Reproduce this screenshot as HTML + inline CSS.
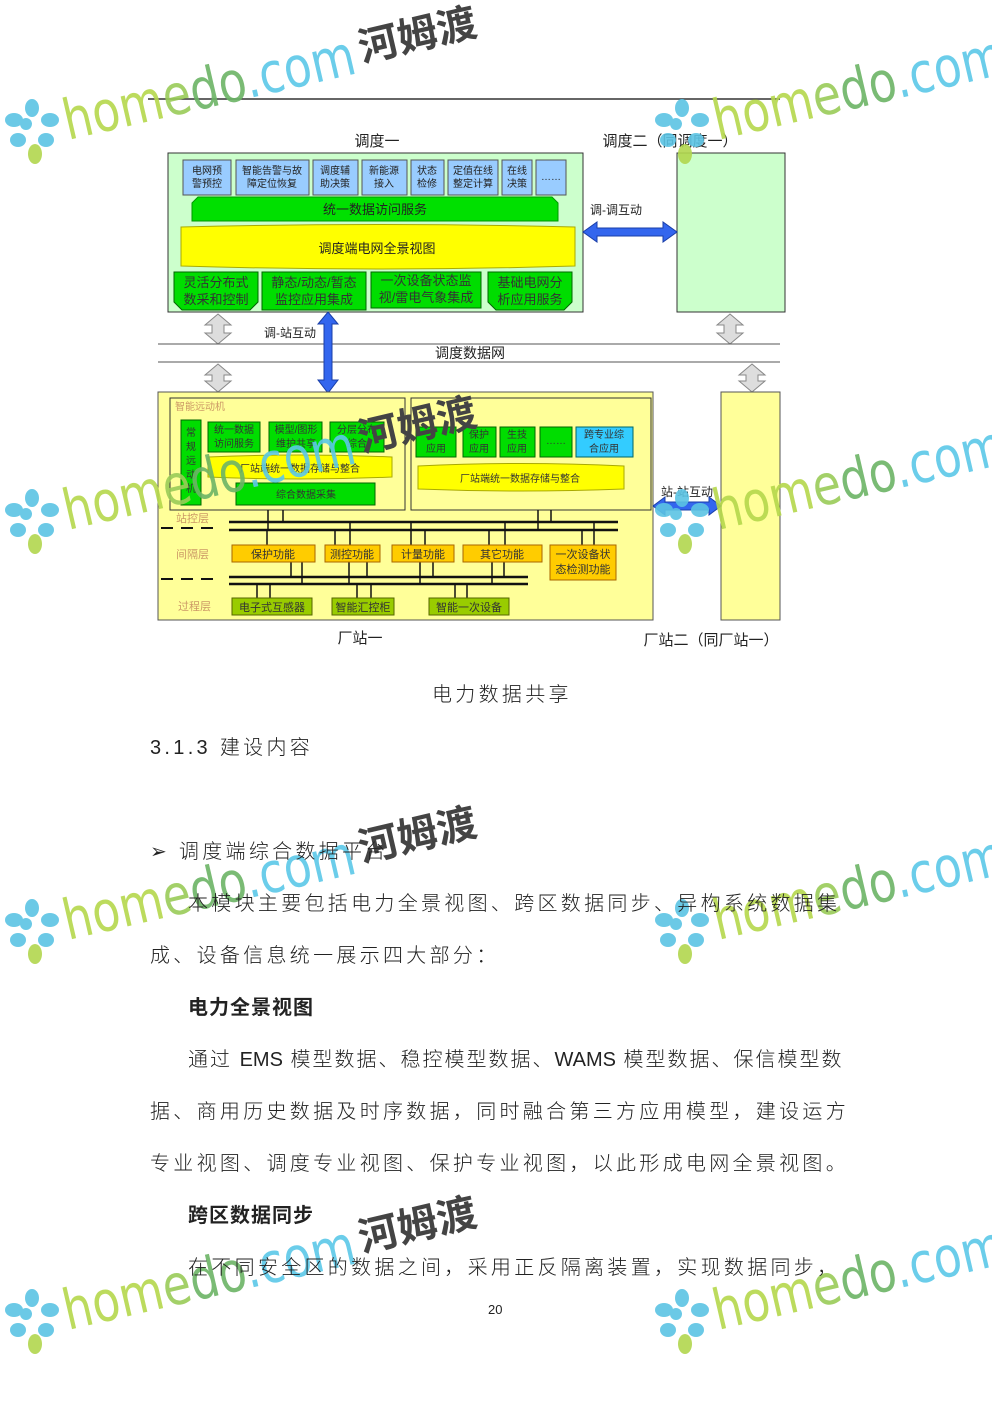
<!DOCTYPE html>
<html><head><meta charset="utf-8"><style>
html,body{margin:0;padding:0;background:#fff}
body{width:992px;height:1403px;position:relative;overflow:hidden;font-family:"Liberation Sans","Noto Sans CJK SC",sans-serif}
.t{position:absolute;font-family:"Liberation Sans","Noto Sans CJK SC",sans-serif;font-size:20px;color:#222;letter-spacing:3.3px;white-space:nowrap;font-weight:300}
.b{font-weight:700;letter-spacing:1px}
.l{letter-spacing:0}
svg text{font-family:"Liberation Sans","Noto Sans CJK SC",sans-serif}
</style></head><body>
<svg width="992" height="1403" style="position:absolute;left:0;top:0" xmlns="http://www.w3.org/2000/svg">
<line x1="148" y1="99" x2="780" y2="99" stroke="#333" stroke-width="1.5"/>
<text x="377" y="146" font-size="15" text-anchor="middle" fill="#222">调度一</text>
<text x="670" y="146" font-size="15" text-anchor="middle" fill="#222">调度二（同调度一）</text>
<rect x="168" y="153" width="415" height="159" fill="#ccffcc" stroke="#333"/>
<g font-size="10" fill="#222" text-anchor="middle">
<rect x="183" y="160" width="48" height="35" fill="#99ccff" stroke="#555"/><text x="207" y="174">电网预</text><text x="207" y="187">警预控</text>
<rect x="236" y="160" width="73" height="35" fill="#99ccff" stroke="#555"/><text x="272" y="174">智能告警与故</text><text x="272" y="187">障定位恢复</text>
<rect x="313" y="160" width="45" height="35" fill="#99ccff" stroke="#555"/><text x="335" y="174">调度辅</text><text x="335" y="187">助决策</text>
<rect x="362" y="160" width="45" height="35" fill="#99ccff" stroke="#555"/><text x="384" y="174">新能源</text><text x="384" y="187">接入</text>
<rect x="411" y="160" width="33" height="35" fill="#99ccff" stroke="#555"/><text x="427" y="174">状态</text><text x="427" y="187">检修</text>
<rect x="448" y="160" width="50" height="35" fill="#99ccff" stroke="#555"/><text x="473" y="174">定值在线</text><text x="473" y="187">整定计算</text>
<rect x="502" y="160" width="30" height="35" fill="#99ccff" stroke="#555"/><text x="517" y="174">在线</text><text x="517" y="187">决策</text>
<rect x="536" y="160" width="30" height="35" fill="#99ccff" stroke="#555"/><text x="551" y="180">……</text>
</g>
<path d="M198 197 H552 L558 203 V221 H192 V203 Z" fill="#00e000" stroke="#090"/>
<text x="375" y="214" font-size="13" text-anchor="middle" fill="#222">统一数据访问服务</text>
<path d="M181 227 Q378 222 575 227 V266 Q378 272 181 266 Z" fill="#ffff00" stroke="#aa0"/>
<text x="377" y="253" font-size="13" text-anchor="middle" fill="#222">调度端电网全景视图</text>
<g font-size="13" fill="#333" text-anchor="middle">
<path d="M174 272 H258 V302 L250 310 H182 L174 302 Z" fill="#00dd00" stroke="#060"/><text x="216" y="287">灵活分布式</text><text x="216" y="304">数采和控制</text>
<rect x="262" y="272" width="104" height="38" fill="#00dd00" stroke="#060"/><text x="314" y="287">静态/动态/暂态</text><text x="314" y="304">监控应用集成</text>
<rect x="371" y="272" width="110" height="36" fill="#00dd00" stroke="#060"/><text x="426" y="285">一次设备状态监</text><text x="426" y="302">视/雷电气象集成</text>
<path d="M488 272 H572 V302 L564 310 H496 L488 302 Z" fill="#00dd00" stroke="#060"/><text x="530" y="287">基础电网分</text><text x="530" y="304">析应用服务</text>
</g>
<rect x="677" y="153" width="108" height="159" fill="#ccffcc" stroke="#333"/>
<text x="616" y="214" font-size="12" text-anchor="middle" fill="#222">调-调互动</text>
<path d="M583 232 L597 222 V228 H663 V222 L677 232 L663 242 V236 H597 V242 Z" fill="#3366ee" stroke="#1a3fa8"/>
<g fill="#ddd" stroke="#888">
<path d="M218 314 L231 325 H224 V333 H231 L218 344 L205 333 H212 V325 H205 Z"/>
<path d="M730 314 L743 325 H736 V333 H743 L730 344 L717 333 H724 V325 H717 Z"/>
<path d="M218 364 L231 375 H224 V381 H231 L218 392 L205 381 H212 V375 H205 Z"/>
<path d="M752 364 L765 375 H758 V381 H765 L752 392 L739 381 H746 V375 H739 Z"/>
</g>
<text x="290" y="337" font-size="12" text-anchor="middle" fill="#222">调-站互动</text>
<line x1="158" y1="344" x2="780" y2="344" stroke="#555"/>
<line x1="158" y1="362" x2="780" y2="362" stroke="#555"/>
<text x="470" y="358" font-size="14" text-anchor="middle" fill="#222">调度数据网</text>
<path d="M328 312 L338 324 H332 V380 H338 L328 393 L318 380 H324 V324 H318 Z" fill="#3366ee" stroke="#1a3fa8"/>
<rect x="158" y="392" width="495" height="228" fill="#ffff99" stroke="#555"/>
<rect x="170" y="398" width="235" height="112" fill="none" stroke="#333"/>
<rect x="411" y="398" width="240" height="112" fill="none" stroke="#333"/>
<text x="175" y="410" font-size="10" fill="#c96">智能远动机</text>
<rect x="181" y="420" width="20" height="85" fill="#00dd00" stroke="#060"/>
<g font-size="10" fill="#333" text-anchor="middle">
<text x="191" y="436">常</text><text x="191" y="450">规</text><text x="191" y="464">远</text><text x="191" y="478">动</text><text x="191" y="492">机</text>
<path d="M208 422 H260 V452 H208 Z" fill="#00dd00" stroke="#060"/><text x="234" y="433">统一数据</text><text x="234" y="447">访问服务</text>
<path d="M269 422 H322 V452 H269 Z" fill="#00dd00" stroke="#060"/><text x="296" y="433">模型/图形</text><text x="296" y="447">维护共享</text>
<path d="M330 422 H384 V452 H330 Z" fill="#00dd00" stroke="#060"/><text x="357" y="433">分层分布</text><text x="357" y="447">综合</text>
<path d="M208 457 Q300 453 392 457 V477 Q300 481 208 477 Z" fill="#ffff00" stroke="#aa0"/><text x="300" y="472">厂站端统一数据存储与整合</text>
<path d="M236 483 H375 V505 H236 Z" fill="#00dd00" stroke="#060"/><text x="306" y="498">综合数据采集</text>
<rect x="416" y="427" width="40" height="30" fill="#00dd00" stroke="#060"/><text x="436" y="452">应用</text>
<rect x="463" y="427" width="33" height="30" fill="#00dd00" stroke="#060"/><text x="479" y="438">保护</text><text x="479" y="452">应用</text>
<rect x="500" y="427" width="35" height="30" fill="#00dd00" stroke="#060"/><text x="517" y="438">生技</text><text x="517" y="452">应用</text>
<rect x="540" y="427" width="32" height="30" fill="#00dd00" stroke="#060"/><text x="556" y="444">……</text>
<rect x="576" y="427" width="57" height="30" fill="#33ccff" stroke="#066"/><text x="604" y="438">跨专业综</text><text x="604" y="452">合应用</text>
<path d="M418 466 Q520 461 624 466 V489 Q520 493 418 489 Z" fill="#ffff00" stroke="#aa0"/><text x="520" y="482">厂站端统一数据存储与整合</text>
</g>
<g stroke="#111" stroke-width="2.5">
<line x1="229" y1="522" x2="618" y2="522"/><line x1="229" y1="530" x2="618" y2="530"/>
<line x1="229" y1="577" x2="528" y2="577"/><line x1="229" y1="584" x2="528" y2="584"/>
</g>
<g stroke="#111" stroke-width="1.5">
<line x1="268" y1="510" x2="268" y2="530"/><line x1="283" y1="510" x2="283" y2="522"/>
<line x1="538" y1="510" x2="538" y2="530"/><line x1="551" y1="510" x2="551" y2="522"/>
<line x1="267" y1="530" x2="267" y2="545"/><line x1="350" y1="522" x2="350" y2="545"/><line x1="335" y1="530" x2="335" y2="545"/>
<line x1="411" y1="522" x2="411" y2="545"/><line x1="425" y1="530" x2="425" y2="545"/>
<line x1="489" y1="530" x2="489" y2="545"/><line x1="505" y1="522" x2="505" y2="545"/>
<line x1="582" y1="530" x2="582" y2="545"/><line x1="594" y1="522" x2="594" y2="545"/>
<line x1="291" y1="562" x2="291" y2="577"/><line x1="302" y1="562" x2="302" y2="584"/>
<line x1="349" y1="562" x2="349" y2="584"/><line x1="367" y1="562" x2="367" y2="577"/>
<line x1="420" y1="562" x2="420" y2="584"/><line x1="433" y1="562" x2="433" y2="577"/>
<line x1="492" y1="562" x2="492" y2="584"/><line x1="504" y1="562" x2="504" y2="577"/>
<line x1="257" y1="584" x2="257" y2="598"/><line x1="270" y1="584" x2="270" y2="598"/>
<line x1="357" y1="584" x2="357" y2="598"/><line x1="371" y1="584" x2="371" y2="598"/>
<line x1="455" y1="584" x2="455" y2="598"/><line x1="467" y1="584" x2="467" y2="598"/>
</g>
<g stroke="#111" stroke-width="2" stroke-dasharray="12 8">
<line x1="161" y1="528" x2="216" y2="528"/><line x1="161" y1="579" x2="216" y2="579"/>
</g>
<g font-size="11" fill="#c96"><text x="176" y="522">站控层</text><text x="176" y="558">间隔层</text><text x="178" y="610">过程层</text></g>
<g font-size="11" fill="#333" text-anchor="middle">
<rect x="232" y="545" width="83" height="17" fill="#ffcc00" stroke="#a60"/><text x="273" y="558">保护功能</text>
<rect x="325" y="545" width="55" height="17" fill="#ffcc00" stroke="#a60"/><text x="352" y="558">测控功能</text>
<rect x="392" y="545" width="62" height="17" fill="#ffcc00" stroke="#a60"/><text x="423" y="558">计量功能</text>
<rect x="463" y="545" width="79" height="17" fill="#ffcc00" stroke="#a60"/><text x="502" y="558">其它功能</text>
<rect x="550" y="545" width="66" height="35" fill="#ffcc00" stroke="#a60"/><text x="583" y="558">一次设备状</text><text x="583" y="573">态检测功能</text>
<rect x="232" y="598" width="80" height="17" fill="#99cc00" stroke="#560"/><text x="272" y="611">电子式互感器</text>
<rect x="332" y="598" width="62" height="17" fill="#99cc00" stroke="#560"/><text x="363" y="611">智能汇控柜</text>
<rect x="429" y="598" width="80" height="17" fill="#99cc00" stroke="#560"/><text x="469" y="611">智能一次设备</text>
</g>
<rect x="721" y="392" width="59" height="228" fill="#ffff99" stroke="#555"/>
<text x="687" y="496" font-size="12" text-anchor="middle" fill="#222">站-站互动</text>
<path d="M653 506 L665 497 V502 H709 V497 L721 506 L709 515 V510 H665 V515 Z" fill="#3366ee" stroke="#1a3fa8"/>
<text x="360" y="643" font-size="15" text-anchor="middle" fill="#222">厂站一</text>
<text x="711" y="645" font-size="15" text-anchor="middle" fill="#222">厂站二（同厂站一）</text>
<!-- watermarks -->
<g id="wm" opacity="0.9">
<g transform="translate(32,128)" fill="#5cc4e4">
<ellipse cx="0" cy="-20" rx="7" ry="9"/><ellipse cx="18" cy="-8" rx="9" ry="7"/><ellipse cx="14" cy="12" rx="8" ry="7"/><ellipse cx="-14" cy="12" rx="8" ry="7"/><ellipse cx="-18" cy="-8" rx="9" ry="7"/><ellipse cx="-6" cy="-4" rx="6" ry="6"/><ellipse cx="3" cy="26" rx="7" ry="10" fill="#b2d64e"/>
</g>
<text x="68" y="140" font-size="56" textLength="298" lengthAdjust="spacingAndGlyphs" fill="#b5d84c" transform="rotate(-13 68 140)" style="font-family:'DejaVu Sans',sans-serif">hom<tspan fill="#9acc58">e</tspan><tspan fill="#6cb466">do</tspan><tspan fill="#5cc8e8">.com</tspan></text>
</g>
<g font-size="40" font-weight="700" fill="#444">
<text x="362" y="62" transform="rotate(-13 362 62)">河姆渡</text>
<text x="362" y="452" transform="rotate(-13 362 452)">河姆渡</text>
<text x="362" y="862" transform="rotate(-13 362 862)">河姆渡</text>
<text x="362" y="1252" transform="rotate(-13 362 1252)">河姆渡</text>
</g>
<use href="#wm" transform="translate(650,0)"/>
<use href="#wm" transform="translate(0,390)"/>
<use href="#wm" transform="translate(650,390)"/>
<use href="#wm" transform="translate(0,800)"/>
<use href="#wm" transform="translate(650,800)"/>
<use href="#wm" transform="translate(0,1190)"/>
<use href="#wm" transform="translate(650,1190)"/>
</svg>
<div class="t" style="left:432px;top:678px">电力数据共享</div>
<div class="t" style="left:150px;top:731px">3.1.3 建设内容</div>
<div class="t" style="left:150px;top:835px">➢ 调度端综合数据平台</div>
<div class="t" style="left:188px;top:887px">本模块主要包括电力全景视图、跨区数据同步、异构系统数据集</div>
<div class="t" style="left:150px;top:939px">成、设备信息统一展示四大部分：</div>
<div class="t b" style="left:188px;top:991px">电力全景视图</div>
<div class="t" style="left:188px;top:1043px;letter-spacing:2.0px">通过 <span class="l">EMS</span> 模型数据、稳控模型数据、<span class="l">WAMS</span> 模型数据、保信模型数</div>
<div class="t" style="left:150px;top:1095px">据、商用历史数据及时序数据，同时融合第三方应用模型，建设运方</div>
<div class="t" style="left:150px;top:1147px">专业视图、调度专业视图、保护专业视图，以此形成电网全景视图。</div>
<div class="t b" style="left:188px;top:1199px">跨区数据同步</div>
<div class="t" style="left:188px;top:1251px">在不同安全区的数据之间，采用正反隔离装置，实现数据同步，</div>
<div style="position:absolute;left:488px;top:1302px;font-size:13px;color:#222">20</div>
</body></html>
